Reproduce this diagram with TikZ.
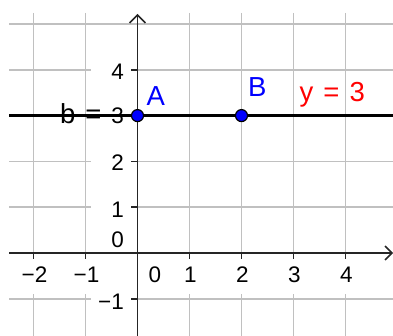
\documentclass[tikz,border=0pt]{standalone}
\usepackage{fontspec}
\setmainfont{Liberation Sans}
\definecolor{gridgray}{RGB}{192,192,192}
\definecolor{axisgray}{RGB}{37,37,37}
\definecolor{ptblue}{RGB}{0,0,255}
\definecolor{lblred}{RGB}{255,0,0}
\begin{document}
\begin{tikzpicture}[x=1pt,y=-1pt,
  gridline/.style={draw=gridgray, line width=1.5pt},
  axisline/.style={draw=axisgray, line width=1.5pt},
  num/.style={inner sep=0pt, text=black, font=\fontsize{22.5}{22.5}\selectfont},
  lbl/.style={inner sep=0pt, font=\fontsize{27.5}{27.5}\selectfont,
    execute at begin node={\spaceskip=10pt\relax}},
  dot/.style={circle, fill=ptblue, draw=black, line width=1.2pt, minimum size=12pt, inner sep=0pt}]
\useasboundingbox (0,0) rectangle (393,336);
% grid
\foreach \x in {33.5,85.5,189.5,241.5,293.5,345.5}
  \draw[gridline] (\x,13) -- (\x,336);
\foreach \y in {24,69.8,161.4,207.2,298.8}
  \draw[gridline] (9,\y) -- (393,\y);
% white label backgrounds
\fill[white] (91,40) rectangle (131,336);
\fill[white] (9,257) rectangle (393,294);
% axes
\coordinate (ytop) at (137.5,15);
\coordinate (ybot) at (137.5,336);
\coordinate (xleft) at (9,253);
\coordinate (xright) at (392,253);
\draw[axisline] (ybot) -- (ytop);
\draw[axisline, line join=miter] (129.5,23) -- (ytop) -- (145.5,23);
\draw[axisline] (xleft) -- (xright);
\draw[axisline, line join=miter] (385,246) -- (xright) -- (385,260);
\foreach \y in {69.8,161.4,207.2,298.8}
  \draw[axisline] (131,\y) -- (137.5,\y);
\foreach \x in {33.5,85.5,189.5,241.5,293.5,345.5}
  \draw[axisline] (\x,253) -- (\x,259.5);
% line y = 3
\coordinate (lleft) at (9,115.6);
\coordinate (lright) at (393,115.6);
\draw[line width=2.2pt, black] (lleft) -- (lright);
% tick labels
\node[num, anchor=base east] (y4) at (124,79.5) {4};
\node[num, anchor=base east] (y3) at (124,124) {3};
\node[num, anchor=base east] (y2) at (124,171) {2};
\node[num, anchor=base east] (y1) at (124,217.5) {1};
\node[num, anchor=base east] (y0) at (124,248) {0};
\node[num, anchor=base east] (ym1) at (124,309) {−1};
\node[num, anchor=base] (xm2) at (34.5,283) {−2};
\node[num, anchor=base] (xm1) at (86.5,283) {−1};
\node[num, anchor=base] (x0) at (155,283) {0};
\node[num, anchor=base] (x1) at (190.5,283) {1};
\node[num, anchor=base] (x2) at (242.5,283) {2};
\node[num, anchor=base] (x3) at (294.5,283) {3};
\node[num, anchor=base] (x4) at (346.5,283) {4};
% points
\node[dot] (A) at (137.5,115.6) {};
\node[dot] (B) at (241.5,115.6) {};
% labels
\node[lbl, text=ptblue, anchor=base west] (lA) at (146.5,106) {A};
\node[lbl, text=ptblue, anchor=base west] (lB) at (248,97) {B};
\node[lbl, text=lblred, anchor=base west] (leq) at (299.5,102) {y = 3};
\node[lbl, text=black, anchor=base west] (lb) at (60,124) {b =};
\end{tikzpicture}
\end{document}
